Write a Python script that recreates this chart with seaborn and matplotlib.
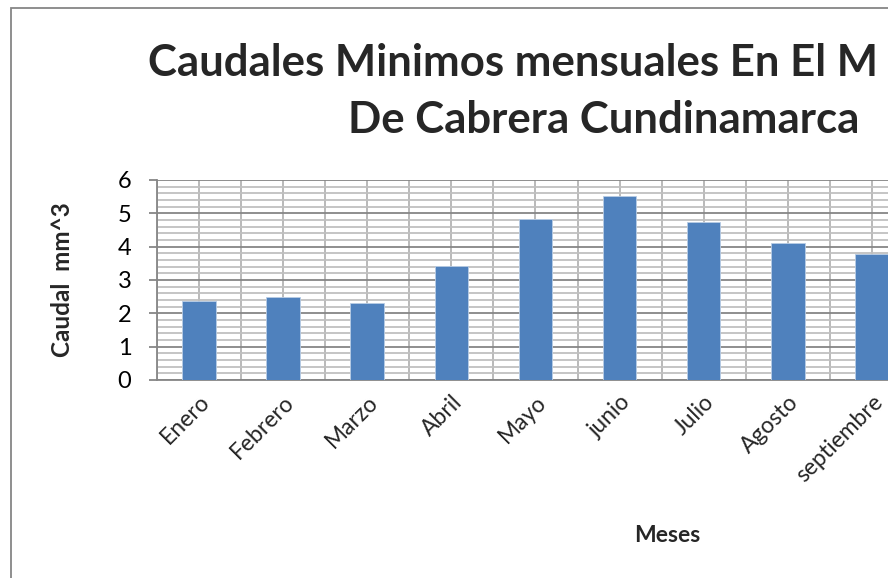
import numpy as np
import pandas as pd
import matplotlib
matplotlib.use("Agg")
import matplotlib.pyplot as plt
from matplotlib.patches import Rectangle
import seaborn as sns

meses = ["Enero", "Febrero", "Marzo", "Abril", "Mayo", "junio", "Julio", "Agosto", "septiembre"]
caudal = [2.37, 2.48, 2.31, 3.41, 4.83, 5.52, 4.74, 4.12, 3.78]
n_categorias_totales = 12  # the original chart spans 12 months; only the first 9 are visible

titulo_l1 = "Caudales Minimos mensuales En El M"
titulo_l2 = "De Cabrera Cundinamarca"
ylabel = "Caudal  mm^3"
xlabel = "Meses"

sns.set_theme(style="white")
plt.rcParams["font.family"] = ["Lato", "DejaVu Sans"]

df = pd.DataFrame({"Mes": meses, "Caudal": caudal})

W, H = 888, 578
fig = plt.figure(figsize=(W / 100, H / 100), dpi=100)
fig.patch.set_facecolor("white")

# chart frame (extends beyond the visible canvas on right/bottom)
fig.patches.append(Rectangle((11 / W, -0.5), 2.0, 1 - 8 / H + 0.5, transform=fig.transFigure,
                             fill=False, edgecolor="#868686", linewidth=1.3, zorder=0))

ax = fig.add_axes([157 / W, 1 - 380 / H, (84.1 * n_categorias_totales) / W, 200 / H])

sns.barplot(data=df, x="Mes", y="Caudal", color="#4F81BD", width=0.4, saturation=1,
            edgecolor="#B9CDE5", linewidth=0.6, ax=ax, zorder=3)

ax.set_xlim(-0.5, n_categorias_totales - 0.5)
ax.set_ylim(0, 6)
ax.set_yticks(np.arange(0, 7, 1))
ax.set_yticks(np.arange(0, 6.01, 0.2), minor=True)
ax.set_xticks(np.arange(len(meses)))
ax.set_xticks(np.arange(-0.5, n_categorias_totales, 1), minor=True)

ax.grid(which="major", axis="y", color="#868686", linewidth=1.3, zorder=1)
ax.grid(which="minor", axis="y", color="#C0C0C0", linewidth=1.3, zorder=0)
ax.grid(which="both", axis="x", color="#B4B4B4", linewidth=1.3, zorder=0)
ax.set_axisbelow(True)

for s in ["top", "right"]:
    ax.spines[s].set_visible(False)
for s in ["left", "bottom"]:
    ax.spines[s].set_color("#868686")
    ax.spines[s].set_linewidth(1.3)

ax.tick_params(axis="y", which="major", direction="out", length=6, width=1.3, color="#868686",
               pad=12.5, labelsize=17, left=True)
ax.tick_params(axis="y", which="minor", length=0)
ax.tick_params(axis="x", which="both", length=0, pad=8)
ax.set_xticklabels(meses, rotation=45, ha="right", rotation_mode="anchor", fontsize=16.5)
for lbl in ax.get_yticklabels():
    lbl.set_color("black")

ax.set_xlabel("")
ax.set_ylabel("")

fig.text(62 / W, 1 - 280 / H, ylabel, rotation=90, ha="center", va="center",
         fontsize=17.5, weight="bold")
fig.text(667 / W, 1 - 535 / H, xlabel, ha="center", va="center", fontsize=16.5, weight="bold")

fig.text(148 / W, 1 - 76 / H, titulo_l1, ha="left", va="baseline", fontsize=31.5, weight="bold")
fig.text(604 / W, 1 - 133 / H, titulo_l2, ha="center", va="baseline", fontsize=31.5, weight="bold")

fig.savefig("out.png", dpi=100)
